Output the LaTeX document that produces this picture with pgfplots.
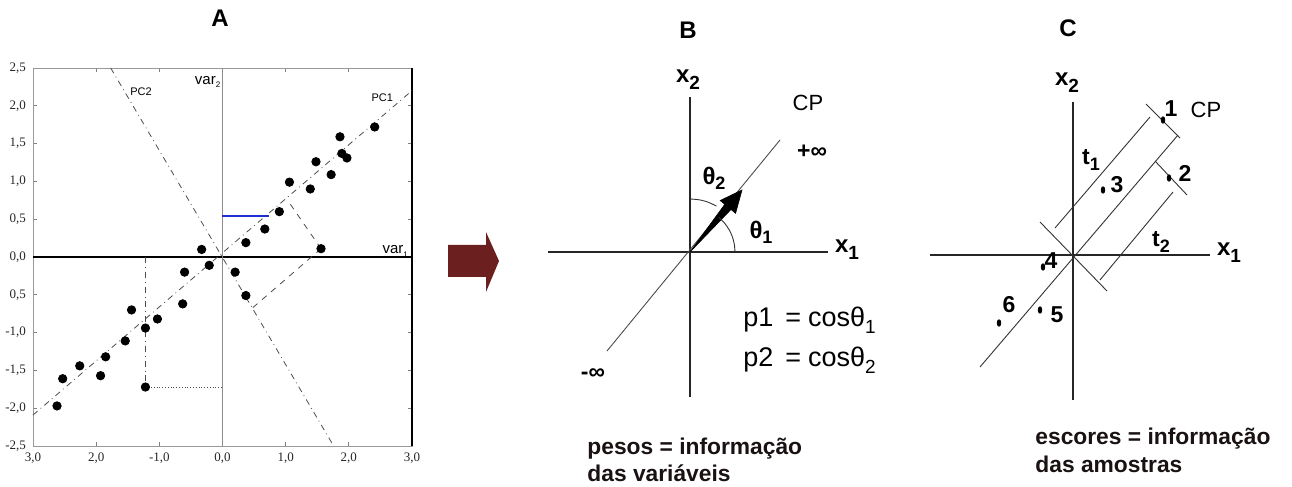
\documentclass[border=0pt]{standalone}
\usepackage{fontspec}
\setmainfont{Liberation Sans}
\newfontfamily\tickfont{Liberation Serif}
\usepackage{pgfplots}
\pgfplotsset{compat=1.18}
\definecolor{arrowred}{HTML}{6B1F1F}
\definecolor{projblue}{HTML}{1F2FD8}
\definecolor{txt}{HTML}{1A1212}
\newcommand{\fs}[1]{\fontsize{#1}{#1}\selectfont}
\newcommand{\xsub}[2]{#1\raisebox{-0.55ex}{\fs{9.5}#2}}

\begin{document}
\begin{tikzpicture}
% Panels B and C, titles and the connecting arrow (units: 1 = 0.5pt)
\begin{axis}[at={(0,0)}, anchor=south west, scale only axis,
  width=646pt, height=243.5pt,
  xmin=0, xmax=1292, ymin=0, ymax=487,
  hide axis, clip=false]
  % block arrow between A and B
  \addplot[fill=arrowred, draw=none] coordinates
    {(448,210)(486,210)(486,195)(499,226)(486,255)(486,242)(448,242)(448,210)};
  % ---------------- panel B ----------------
  \addplot[black!85, line width=0.7pt] coordinates {(548,235)(828,235)};
  \addplot[black!85, line width=0.7pt] coordinates {(690,90)(690,390)};
  \addplot[black!70, line width=0.45pt] coordinates {(607,136)(780,347)};
  \addplot[fill=black, draw=black, line width=0.3pt] coordinates
    {(690,235)(731.0,277.5)(735.6,273.7)(742,297)(720.2,286.5)(724.8,282.7)(690,235)};
  \addplot[black!80, line width=0.45pt, smooth] coordinates
    {(735,235)(734.3,242.8)(732.3,250.4)(729,257.5)(724.5,263.9)(718.9,269.5)};
  \addplot[black!80, line width=0.45pt, smooth] coordinates
    {(716.5,280.9)(708.1,284.8)(699.2,287.2)(690,288)};
  \node[font=\bfseries\fs{12}] at (axis cs:688,457) {B};
  \node[font=\bfseries\fs{12}] at (axis cs:688,407) {\xsub{x}{2}};
  \node[font=\bfseries\fs{12}] at (axis cs:847,237) {\xsub{x}{1}};
  \node[font=\fs{11}] at (axis cs:808,384) {CP};
  \node[font=\bfseries\fs{11.5}] at (axis cs:812,335) {+∞};
  \node[font=\bfseries\fs{11.5}] at (axis cs:593,113) {-∞};
  \node[font=\bfseries\fs{12}] at (axis cs:714,309) {θ\raisebox{-0.4ex}{\fs{9}2}};
  \node[font=\bfseries\fs{12}] at (axis cs:761,255) {θ\raisebox{-0.4ex}{\fs{9}1}};
  \node[font=\fs{13.5}, anchor=base west, inner sep=0pt] at (axis cs:743,160)
    {p1\hspace{6pt}=\hspace{3.5pt}cosθ\raisebox{-0.45ex}{\fs{9.5}1}};
  \node[font=\fs{13.5}, anchor=base west, inner sep=0pt] at (axis cs:743,120)
    {p2\hspace{6pt}=\hspace{3.5pt}cosθ\raisebox{-0.45ex}{\fs{9.5}2}};
  \node[font=\bfseries\fs{11.4}, text=txt, anchor=base west, inner sep=0pt] at (axis cs:587,32)
    {pesos = informação};
  \node[font=\bfseries\fs{11.4}, text=txt, anchor=base west, inner sep=0pt] at (axis cs:587,5)
    {das variáveis};
  % ---------------- panel C ----------------
  \addplot[black!85, line width=0.7pt] coordinates {(930,232)(1210,232)};
  \addplot[black!85, line width=0.7pt] coordinates {(1073,87)(1073,385)};
  \addplot[black!80, line width=0.45pt] coordinates {(980,120)(1178,352)};
  \addplot[black!80, line width=0.45pt] coordinates {(1055,259)(1150,370)};
  \addplot[black!80, line width=0.45pt] coordinates {(1100,207)(1173,295)};
  \addplot[black!80, line width=0.45pt] coordinates {(1040,265)(1107,196)};
  \addplot[black!80, line width=0.45pt] coordinates {(1146,383)(1180,349)};
  \addplot[black!80, line width=0.45pt] coordinates {(1155,326)(1187,292)};
  % samples
  \addplot[only marks, mark=*, mark size=0.9pt, mark options={yscale=1.8}, black] coordinates
    {(1163,367)(1169,309)(1103,297)(1043,220)(1040,177)(999,164)};
  \node[font=\bfseries\fs{12}] at (axis cs:1068,459) {C};
  \node[font=\bfseries\fs{12}] at (axis cs:1067,404) {\xsub{x}{2}};
  \node[font=\bfseries\fs{12}] at (axis cs:1229,234) {\xsub{x}{1}};
  \node[font=\fs{11}] at (axis cs:1206,377) {CP};
  \node[font=\bfseries\fs{11.5}] at (axis cs:1171,378) {1};
  \node[font=\bfseries\fs{11.5}] at (axis cs:1185,314) {2};
  \node[font=\bfseries\fs{11.5}] at (axis cs:1117,302) {3};
  \node[font=\bfseries\fs{11.5}] at (axis cs:1051,226) {4};
  \node[font=\bfseries\fs{11.5}] at (axis cs:1057,172) {5};
  \node[font=\bfseries\fs{11.5}] at (axis cs:1009,182) {6};
  \node[font=\bfseries\fs{11.5}] at (axis cs:1091,327) {t\raisebox{-0.5ex}{\fs{9}1}};
  \node[font=\bfseries\fs{11.5}] at (axis cs:1161,245) {t\raisebox{-0.5ex}{\fs{9}2}};
  \node[font=\bfseries\fs{11.4}, text=txt, anchor=base west, inner sep=0pt] at (axis cs:1035,42)
    {escores = informação};
  \node[font=\bfseries\fs{11.4}, text=txt, anchor=base west, inner sep=0pt] at (axis cs:1035,14)
    {das amostras};
  % title of panel A
  \node[font=\bfseries\fs{12}] at (axis cs:220,469) {A};
\end{axis}

% ---------------- panel A: scores in the var1/var2 plane ----------------
\begin{axis}[at={(16.5pt,20.5pt)}, anchor=south west, scale only axis,
  width=189.5pt, height=189pt,
  xmin=-3, xmax=3, ymin=-2.5, ymax=2.5,
  axis line style={black!40, line width=0.4pt},
  xtick={-3,-2,-1,0,1,2,3},
  xticklabels={{3,0},{2,0},{-1,0},{0,0},{1,0},{2,0},{3,0}},
  ytick={-2.5,-2,-1.5,-1,-0.5,0,0.5,1,1.5,2,2.5},
  yticklabels={{-2,5},{-2,0},{-1,5},{-1,0},{0,5},{0,0},{0,5},{1,0},{1,5},{2,0},{2,5}},
  tick align=inside, major tick length=2pt,
  tick style={black!50, line width=0.4pt},
  tick label style={font=\tickfont\fs{6.5}, text=black!85},
  clip=false]
  % right frame edge and reference axes
  \addplot[black, line width=1pt] coordinates {(3,-2.5)(3,2.5)};
  \addplot[black, line width=1.1pt] coordinates {(-3,0)(3,0)};
  \addplot[black!45, line width=0.5pt] coordinates {(0,-2.5)(0,2.5)};
  % principal component directions
  \addplot[black!70, line width=0.4pt, dash dot] coordinates {(-3,-2.09)(3,2.2)};
  \addplot[black!70, line width=0.4pt, dash dot] coordinates {(-1.77,2.5)(1.76,-2.5)};
  % projections of single samples
  \addplot[black!70, line width=0.4pt, dashed] coordinates {(1.56,0.11)(1.04,0.74)};
  \addplot[black!70, line width=0.4pt, dashed] coordinates {(1.56,0.11)(0.48,-0.67)};
  \addplot[black!70, line width=0.4pt, dash dot] coordinates {(-1.22,0)(-1.22,-1.72)};
  \addplot[black!70, line width=0.4pt, densely dotted] coordinates {(-1.22,-1.72)(0,-1.72)};
  \addplot[projblue, line width=0.8pt] coordinates {(0,0.54)(0.73,0.54)};
  % samples
  \addplot[only marks, mark=*, mark size=2.1pt, black] coordinates {
    (2.41,1.72)(1.86,1.59)(1.89,1.37)(1.97,1.31)(1.48,1.26)(1.72,1.09)
    (1.06,0.99)(1.39,0.90)(0.90,0.60)(0.67,0.37)(0.37,0.19)(1.56,0.11)
    (-0.33,0.10)(-0.21,-0.11)(0.20,-0.20)(0.37,-0.51)(-0.60,-0.20)
    (-0.63,-0.62)(-1.03,-0.82)(-1.44,-0.70)(-1.22,-0.94)(-1.54,-1.11)
    (-1.85,-1.32)(-2.26,-1.44)(-1.93,-1.57)(-2.53,-1.61)(-2.62,-1.97)
    (-1.22,-1.72)};
  \node[font=\fs{5.5}] at (axis cs:-1.29,2.19) {PC2};
  \node[font=\fs{5.5}] at (axis cs:2.53,2.11) {PC1};
  \node[font=\fs{7.5}, anchor=base east, inner sep=0pt] at (axis cs:-0.03,2.28)
    {var\raisebox{-0.4ex}{\fs{4}2}};
  \node[font=\fs{7.5}, anchor=base east, inner sep=0pt] at (axis cs:2.94,0.04)
    {var\raisebox{-0.4ex}{\fs{4}1}};
\end{axis}
\pgfresetboundingbox
\path[use as bounding box] (0,0) rectangle (646pt,243.5pt);
\end{tikzpicture}
\end{document}
